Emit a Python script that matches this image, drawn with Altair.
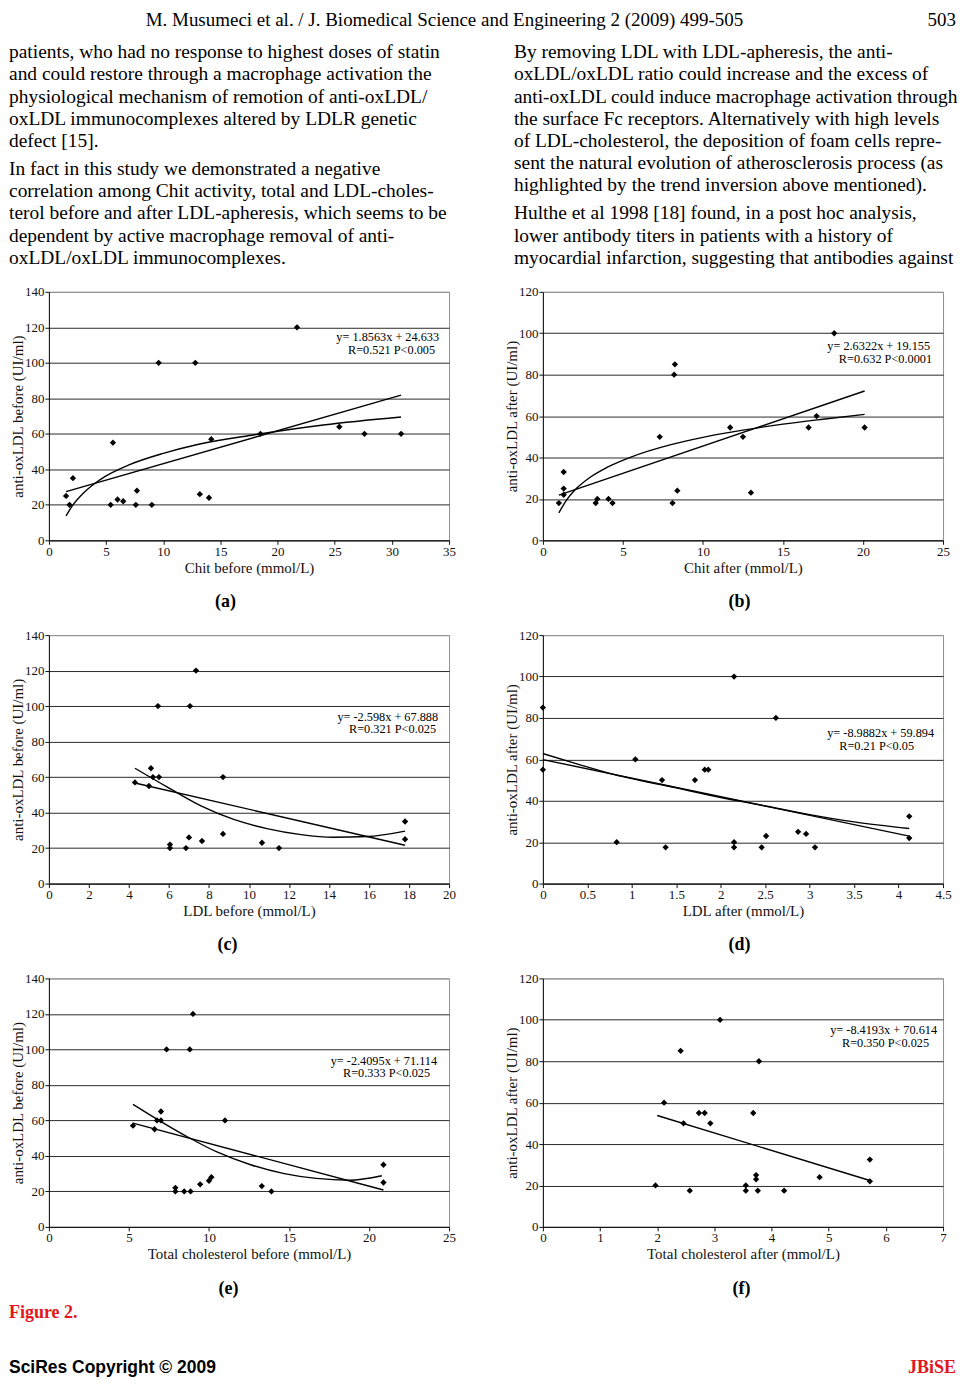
import altair as alt
import pandas as pd

SERIF = "Liberation Serif"
SANS = "Liberation Sans"
RED = "#e3161e"

# ---------------- page text ----------------
header_left = "M. Musumeci et al. / J. Biomedical Science and Engineering 2 (2009) 499-505"
header_page = "503"

left_lines = [
    "patients, who had no response to highest doses of statin",
    "and could restore through a macrophage activation the",
    "physiological mechanism of remotion of anti-oxLDL/",
    "oxLDL immunocomplexes altered by LDLR genetic",
    "defect [15].",
    "In fact in this study we demonstrated a negative",
    "correlation among Chit activity, total and LDL-choles-",
    "terol before and after LDL-apheresis, which seems to be",
    "dependent by active macrophage removal of anti-",
    "oxLDL/oxLDL immunocomplexes.",
]
left_para = [0, 0, 0, 0, 0, 1, 1, 1, 1, 1]
left_first = [0, 0, 0, 0, 0, 1, 0, 0, 0, 0]

right_lines = [
    "By removing LDL with LDL-apheresis, the anti-",
    "oxLDL/oxLDL ratio could increase and the excess of",
    "anti-oxLDL could induce macrophage activation through",
    "the surface Fc receptors. Alternatively with high levels",
    "of LDL-cholesterol, the deposition of foam cells repre-",
    "sent the natural evolution of atherosclerosis process (as",
    "highlighted by the trend inversion above mentioned).",
    "Hulthe et al 1998 [18] found, in a post hoc analysis,",
    "lower antibody titers in patients with a history of",
    "myocardial infarction, suggesting that antibodies against",
]
right_para = [0, 0, 0, 0, 0, 0, 0, 1, 1, 1]
right_first = [1, 0, 0, 0, 0, 0, 0, 1, 0, 0]

fig_label = "Figure 2."
footer_left = "SciRes Copyright \u00a9 2009"
footer_right = "JBiSE"

# ---------------- panel data ----------------
# (a) Chit before vs anti-oxLDL before
a_x = [1.5, 1.8, 2.1, 5.4, 5.6, 6.0, 6.5, 7.6, 7.7, 9.0, 9.6, 12.8, 13.2, 14.0, 14.2, 18.5, 21.7, 25.4, 27.6, 30.8]
a_y = [25, 20, 35, 20, 55, 23, 22, 20, 28, 20, 100, 100, 26, 24, 57, 60, 120, 64, 60, 60]
a_lin_x = [1.5, 30.8]
a_lin_y = [27.4, 81.8]
a_crv_x = [1.5, 2.0, 3.0, 4.0, 5.0, 7.0, 10.0, 13.0, 18.0, 24.0, 30.8]
a_crv_y = [13.8, 19.0, 26.5, 32.0, 36.3, 42.5, 49.0, 54.0, 59.5, 65.0, 69.5]

# (b) Chit after vs anti-oxLDL after
b_x = [1.0, 1.3, 1.3, 1.3, 3.3, 3.4, 4.1, 4.35, 7.3, 8.1, 8.2, 8.25, 8.4, 11.7, 12.5, 13.0, 16.6, 17.1, 18.2, 20.1]
b_y = [18, 33, 25, 22, 18, 20, 20, 18, 50, 18, 80, 85, 24, 54.5, 50, 23, 54.5, 60, 100, 54.5]
b_lin_x = [1.0, 20.1]
b_lin_y = [21.8, 72.1]
b_crv_x = [1.0, 1.5, 2.0, 3.0, 4.0, 5.5, 8.0, 10.0, 12.5, 15.0, 17.5, 20.1]
b_crv_y = [13.3, 19.7, 24.3, 30.7, 35.2, 40.2, 46.2, 49.7, 53.2, 56.1, 58.5, 60.8]

# (c) LDL before vs anti-oxLDL before
c_x = [4.3, 5.0, 5.1, 5.2, 5.5, 5.45, 6.05, 6.05, 6.85, 7.0, 7.05, 7.35, 7.65, 8.7, 8.7, 10.65, 11.5, 17.8, 17.8]
c_y = [57, 55, 65, 60, 60, 100, 22, 20, 20, 26, 100, 120, 24, 60, 28, 23, 20, 35, 25]
c_lin_x = [4.3, 17.8]
c_lin_y = [56.7, 21.6]
c_crv_x = [4.3, 5.9, 7.6, 9.2, 10.9, 12.6, 14.2, 15.9, 17.8]
c_crv_y = [65.0, 54.5, 43.8, 36.3, 31.0, 27.6, 26.1, 26.5, 29.6]

# (d) LDL after vs anti-oxLDL after
d_x = [0, 0, 0.83, 1.04, 1.34, 1.38, 1.71, 1.82, 1.86, 2.15, 2.15, 2.15, 2.46, 2.51, 2.62, 2.87, 2.96, 3.06, 4.12, 4.12]
d_y = [85, 55, 20, 60, 50, 17.5, 50, 55, 55, 100, 20, 17.5, 17.5, 23, 80, 25, 24, 17.5, 32.5, 22]
d_lin_x = [0, 4.12]
d_lin_y = [59.9, 22.9]
d_crv_x = [0, 0.4, 0.75, 1.5, 2.0, 2.5, 3.0, 3.5, 4.12]
d_crv_y = [62.8, 57.6, 53.2, 46.2, 41.6, 37.5, 33.3, 29.8, 26.6]

# (e) Total cholesterol before vs anti-oxLDL before
e_x = [5.25, 6.6, 6.75, 7.0, 7.0, 7.35, 7.9, 7.9, 8.45, 8.8, 8.85, 9.0, 9.45, 10.0, 10.15, 11.0, 13.3, 13.9, 20.9, 20.9]
e_y = [57, 55, 60, 60, 65, 100, 22, 20, 20, 100, 20, 120, 24, 26, 28, 60, 23, 20, 35, 25]
e_lin_x = [5.25, 20.9]
e_lin_y = [58.5, 20.8]
e_crv_x = [5.25, 7.0, 8.7, 10.5, 12.6, 14.7, 16.7, 18.8, 20.8]
e_crv_y = [69.0, 59.3, 50.5, 42.2, 35.0, 30.0, 27.3, 26.3, 28.8]

# (f) Total cholesterol after vs anti-oxLDL after
f_x = [1.97, 2.12, 2.41, 2.46, 2.57, 2.73, 2.83, 2.93, 3.1, 3.55, 3.55, 3.68, 3.73, 3.73, 3.76, 3.78, 4.22, 4.84, 5.72, 5.72]
f_y = [20, 60, 85, 50, 17.5, 55, 55, 50, 100, 20, 17.5, 55, 25, 23, 17.5, 80, 17.5, 24, 32.5, 22]
f_lin_x = [2.0, 5.72]
f_lin_y = [53.8, 22.4]

ticks_35 = [0, 5, 10, 15, 20, 25, 30, 35]
ticks_25 = [0, 5, 10, 15, 20, 25]
ticks_20 = [0, 2, 4, 6, 8, 10, 12, 14, 16, 18, 20]
ticks_45 = [0, 0.5, 1, 1.5, 2, 2.5, 3, 3.5, 4, 4.5]
ticks_7 = [0, 1, 2, 3, 4, 5, 6, 7]
yt_140 = [0, 20, 40, 60, 80, 100, 120, 140]
yt_120 = [0, 20, 40, 60, 80, 100, 120]

PW = 401  # plot width
PH = 249  # plot height
LBL = "datum.value + ''"
BORDER = "#8f8f8f"
GRID = "#2a2a2a"


def panel(px, py, fits, xticks, yticks, xtitle, ytitle, eqs, cap, capx):
    X = alt.X("x:Q",
              scale=alt.Scale(domain=[xticks[0], xticks[-1]], nice=False, zero=False),
              axis=alt.Axis(values=xticks, labelExpr=LBL, title=xtitle, grid=False,
                            labelFlush=False, labelOverlap=False,
                            titleY=27, titleBaseline="middle"))
    Y = alt.Y("y:Q",
              scale=alt.Scale(domain=[yticks[0], yticks[-1]], nice=False),
              axis=alt.Axis(values=yticks, labelExpr=LBL, title=ytitle, grid=True,
                            gridColor={"condition": {"test": f"datum.value >= {yticks[-1]}",
                                                     "value": BORDER},
                                       "value": GRID},
                            labelFlush=False, labelOverlap=False,
                            titleX=-31, titleY=PH / 2, titleBaseline="middle"))
    layers = [alt.Chart(pd.DataFrame({"x": px, "y": py}))
              .mark_point(shape="diamond", filled=True, size=40, color="black", opacity=1)
              .encode(x=X, y=Y)]
    for fx, fy, interp in fits:
        layers.append(alt.Chart(pd.DataFrame({"x": fx, "y": fy}))
                      .mark_line(color="black", strokeWidth=1.4, interpolate=interp)
                      .encode(x=X, y=Y))
    for t, xr, yy in eqs:
        layers.append(alt.Chart(pd.DataFrame({"t": [t]}))
                      .mark_text(align="right", baseline="middle", font=SERIF, fontSize=12.3, color="black")
                      .encode(x=alt.value(xr), y=alt.value(yy), text="t:N"))
    layers.append(alt.Chart(pd.DataFrame({"t": [cap]}))
                  .mark_text(align="center", baseline="middle", font=SERIF, fontSize=18,
                             fontWeight="bold", color="black")
                  .encode(x=alt.value(capx), y=alt.value(PH + 62), text="t:N"))
    return alt.layer(*layers).properties(width=PW, height=PH)


pa = panel(a_x, a_y, [(a_lin_x, a_lin_y, "linear"), (a_crv_x, a_crv_y, "monotone")],
           ticks_35, yt_140, "Chit before (mmol/L)", "anti-oxLDL before (UI/ml)",
           [("y= 1.8563x + 24.633", 391, 45), ("R=0.521 P<0.005", 387, 58)], "(a)", 177)
pb = panel(b_x, b_y, [(b_lin_x, b_lin_y, "linear"), (b_crv_x, b_crv_y, "monotone")],
           ticks_25, yt_120, "Chit after (mmol/L)", "anti-oxLDL after (UI/ml)",
           [("y= 2.6322x + 19.155", 388, 54), ("R=0.632 P<0.0001", 390, 67)], "(b)", 197)
pc = panel(c_x, c_y, [(c_lin_x, c_lin_y, "linear"), (c_crv_x, c_crv_y, "monotone")],
           ticks_20, yt_140, "LDL before (mmol/L)", "anti-oxLDL before (UI/ml)",
           [("y= -2.598x + 67.888", 390, 82), ("R=0.321 P<0.025", 388, 94)], "(c)", 179)
pd_ = panel(d_x, d_y, [(d_lin_x, d_lin_y, "linear"), (d_crv_x, d_crv_y, "monotone")],
            ticks_45, yt_120, "LDL after (mmol/L)", "anti-oxLDL after (UI/ml)",
            [("y= -8.9882x + 59.894", 392, 98), ("R=0.21 P<0.05", 372, 111)], "(d)", 197)
pe = panel(e_x, e_y, [(e_lin_x, e_lin_y, "linear"), (e_crv_x, e_crv_y, "monotone")],
           ticks_25, yt_140, "Total cholesterol before (mmol/L)", "anti-oxLDL before (UI/ml)",
           [("y= -2.4095x + 71.114", 389, 83), ("R=0.333 P<0.025", 382, 95)], "(e)", 180)
pf = panel(f_x, f_y, [(f_lin_x, f_lin_y, "linear")],
           ticks_7, yt_120, "Total cholesterol after (mmol/L)", "anti-oxLDL after (UI/ml)",
           [("y= -8.4193x + 70.614", 395, 52), ("R=0.350 P<0.025", 387, 65)], "(f)", 199)


# ---------------- text columns ----------------
def column_text(lines, paras, firsts, x0):
    df = pd.DataFrame({
        "line": list(range(len(lines))),
        "para": paras,
        "text": [("\u00a0\u00a0\u00a0" + t) if f else t for t, f in zip(lines, firsts)],
    })
    return (alt.Chart(df)
            .transform_calculate(pos="datum.line + 0.27 * datum.para")
            .mark_text(align="left", baseline="middle", font=SERIF, fontSize=19.5, color="black")
            .encode(x=alt.value(x0),
                    y=alt.Y("pos:Q", scale=alt.Scale(domain=[0, 10], range=[42, 264], nice=False,
                                                     zero=False), axis=None),
                    text="text:N"))


NOVIEW = alt.ViewBackground(stroke="transparent")

hdr = (alt.Chart(pd.DataFrame({"t": [header_left]}))
       .mark_text(align="left", baseline="middle", font=SERIF, fontSize=19, color="black")
       .encode(x=alt.value(97), y=alt.value(10), text="t:N"))
hdr_no = (alt.Chart(pd.DataFrame({"t": [header_page]}))
          .mark_text(align="right", baseline="middle", font=SERIF, fontSize=19, color="black")
          .encode(x=alt.value(414), y=alt.value(10), text="t:N"))

text_left = alt.layer(hdr, column_text(left_lines, left_para, left_first, -40)).properties(
    width=PW, height=187, view=NOVIEW)
text_right = alt.layer(hdr_no, column_text(right_lines, right_para, right_first, -29)).properties(
    width=PW, height=187, view=NOVIEW)

# ---------------- footer ----------------
f1 = (alt.Chart(pd.DataFrame({"t": [fig_label]}))
      .mark_text(align="left", baseline="middle", font=SERIF, fontSize=18, fontWeight="bold", color=RED)
      .encode(x=alt.value(-40), y=alt.value(-9), text="t:N"))
f2 = (alt.Chart(pd.DataFrame({"t": [footer_left]}))
      .mark_text(align="left", baseline="middle", font=SANS, fontSize=17.5, fontWeight="bold", color="black")
      .encode(x=alt.value(-40), y=alt.value(46), text="t:N"))
f3 = (alt.Chart(pd.DataFrame({"t": [footer_right]}))
      .mark_text(align="right", baseline="middle", font=SERIF, fontSize=18, fontWeight="bold", color=RED)
      .encode(x=alt.value(414), y=alt.value(46), text="t:N"))
footer_left_c = alt.layer(f1, f2).properties(width=PW, height=40, view=NOVIEW)
footer_right_c = alt.layer(f3).properties(width=PW, height=40, view=NOVIEW)

chart = (alt.concat(text_left, text_right, pa, pb, pc, pd_, pe, pf, footer_left_c, footer_right_c,
                    columns=2, spacing={"row": 95, "column": 94}, bounds="flush")
         .properties(padding={"left": 0, "right": 0, "top": 0, "bottom": 0})
         .configure(background="white")
         .configure_view(stroke=BORDER, strokeWidth=1)
         .configure_axis(labelFont=SERIF, labelFontSize=13, labelColor="#111",
                         titleFont=SERIF, titleFontSize=15, titleFontWeight="normal", titleColor="#111",
                         domainColor="#111", tickColor="#111", tickSize=4, labelPadding=1,
                         gridWidth=1))

chart.save("out.html", embed_options={"renderer": "svg", "actions": False})
